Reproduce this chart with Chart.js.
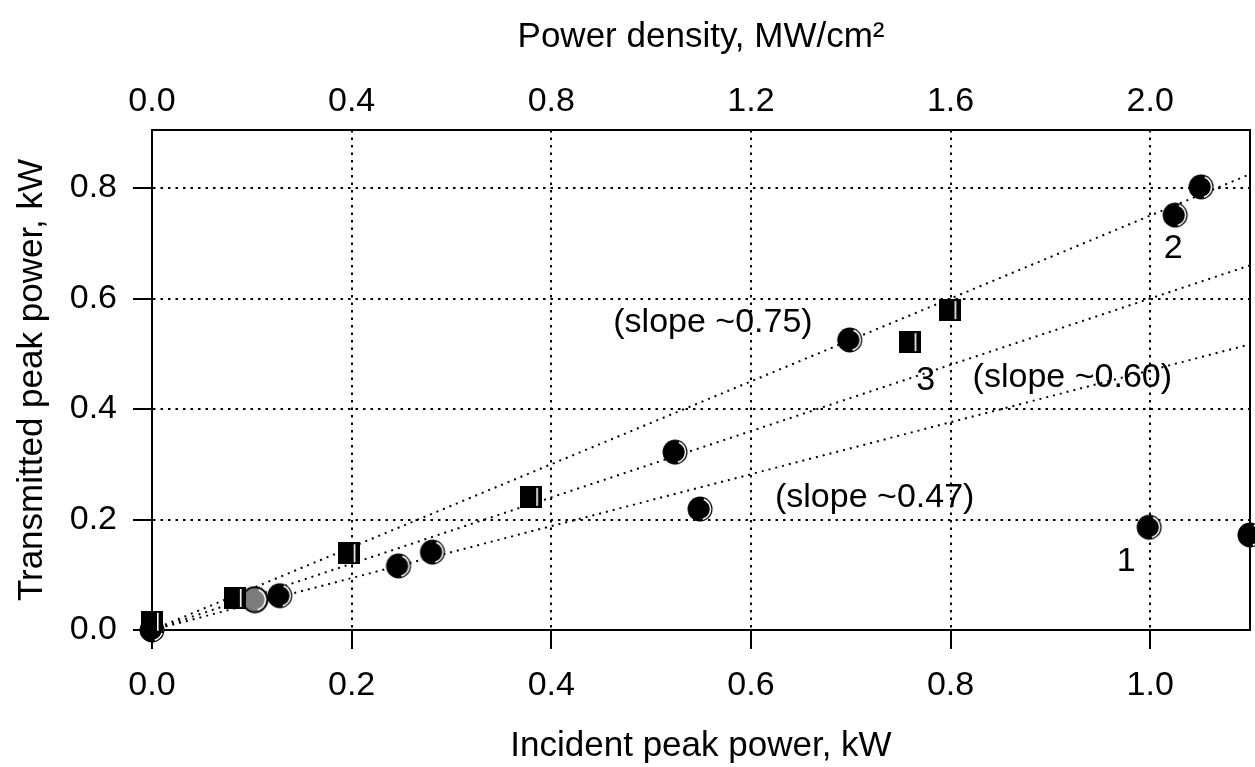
<!DOCTYPE html>
<html>
<head>
<meta charset="utf-8">
<script src="https://cdn.jsdelivr.net/npm/chart.js@4/dist/chart.umd.min.js"></script>
<style>
  html, body { margin: 0; padding: 0; background: #fff; }
  #wrap { width: 1255px; height: 767px; }
</style>
</head>
<body>
<div id="wrap"><canvas id="chart" width="1255" height="767"></canvas></div>
<script>
// Transmitted vs incident peak power; top axis shows the matching power density.

// filled circles (runs 1 and 2)
const circleX = [0.0, 0.128, 0.247, 0.281, 0.524, 0.549, 0.699, 0.999, 1.100, 1.025, 1.051];
const circleY = [0.0, 0.062, 0.116, 0.141, 0.322, 0.219, 0.525, 0.186, 0.172, 0.751, 0.802];

// the one grey circle
const greyX = [0.103];
const greyY = [0.055];

// squares (run 3)
const squareX = [0.0, 0.083, 0.197, 0.380, 0.759, 0.799];
const squareY = [0.015, 0.058, 0.139, 0.241, 0.521, 0.579];

// dotted guide lines through the origin
const fitSlopes = [0.75, 0.60, 0.47];
const fitEndX = 1.1;

// text notes inside the plot
const noteText = ["(slope ~0.75)", "(slope ~0.60)", "(slope ~0.47)", "1", "2", "3"];
const noteX = [0.562, 0.922, 0.724, 0.976, 1.023, 0.775];
const noteY = [0.557, 0.456, 0.239, 0.123, 0.691, 0.452];

const FONT = '"Liberation Sans", Arial, sans-serif';
Chart.defaults.font.family = FONT;
Chart.defaults.color = "#000";

function circleMarker(fill) {
  const c = document.createElement("canvas");
  c.width = 28; c.height = 28;
  const g = c.getContext("2d");
  g.fillStyle = fill;
  g.beginPath(); g.arc(14, 14, 12.5, 0, Math.PI * 2); g.fill();
  if (fill !== "#000") {
    g.strokeStyle = "#000"; g.lineWidth = 2; g.stroke();
  }
  g.strokeStyle = "#fff"; g.lineWidth = 1.6;
  g.beginPath(); g.arc(14, 14, 10.5, -1.2, 1.3); g.stroke();
  return c;
}

function squareMarker() {
  const c = document.createElement("canvas");
  c.width = 22; c.height = 22;
  const g = c.getContext("2d");
  g.fillStyle = "#000";
  g.fillRect(0, 0, 22, 22);
  g.fillStyle = "#fff";
  g.fillRect(16, 2, 1.6, 18);
  return c;
}

function pts(xs, ys) {
  return xs.map(function (x, i) { return { x: x, y: ys[i] }; });
}

const lineSets = fitSlopes.map(function (k) {
  return {
    data: [{ x: 0, y: 0 }, { x: fitEndX, y: k * fitEndX }],
    showLine: true,
    borderColor: "#000",
    borderWidth: 2,
    borderDash: [2, 5],
    pointRadius: 0,
    order: 3
  };
});

const notesPlugin = {
  id: "notes",
  afterDatasetsDraw(chart) {
    const ctx = chart.ctx;
    const xs = chart.scales.x, ys = chart.scales.y;
    ctx.save();
    ctx.font = "34px " + FONT;
    ctx.fillStyle = "#000";
    ctx.textAlign = "center";
    ctx.textBaseline = "middle";
    noteText.forEach(function (t, i) {
      ctx.fillText(t, xs.getPixelForValue(noteX[i]), ys.getPixelForValue(noteY[i]));
    });
    ctx.restore();
  }
};

const tickFont = { size: 34 };
const titleFont = { size: 35 };
const fmt = function (v) { return Number(v).toFixed(1); };

new Chart(document.getElementById("chart"), {
  type: "scatter",
  data: {
    datasets: lineSets.concat([
      { data: pts(circleX, circleY), pointStyle: circleMarker("#000"), clip: false, order: 2 },
      { data: pts(greyX, greyY), pointStyle: circleMarker("#7c7c7c"), clip: false, order: 1 },
      { data: pts(squareX, squareY), pointStyle: squareMarker(), clip: false, order: 0 }
    ])
  },
  options: {
    responsive: false,
    animation: false,
    devicePixelRatio: 1,
    layout: { padding: 0 },
    plugins: { legend: { display: false }, tooltip: { enabled: false } },
    scales: {
      x: {
        type: "linear", position: "bottom", min: 0, max: 1.1,
        ticks: { stepSize: 0.2, includeBounds: false, callback: fmt, font: tickFont, color: "#000", padding: 16, maxRotation: 0 },
        grid: { color: "#000", lineWidth: 2, tickLength: 19, tickWidth: 2, tickColor: "#000", tickBorderDash: [] },
        border: { display: true, color: "#000", width: 2, dash: [2.5, 5] },
        title: { display: true, text: "Incident peak power, kW", font: titleFont, color: "#000", padding: { top: 0, bottom: 0 } },
        afterFit: function (s) { s.height = 137; }
      },
      x2: {
        type: "linear", position: "top", min: 0, max: 2.2,
        ticks: { stepSize: 0.4, includeBounds: false, callback: fmt, font: tickFont, color: "#000", padding: 8, maxRotation: 0 },
        grid: { drawOnChartArea: false, drawTicks: false },
        border: { display: true, color: "#000", width: 2 },
        title: { display: true, text: "Power density, MW/cm²", font: titleFont, color: "#000", padding: { top: 16, bottom: 0 } },
        afterFit: function (s) { s.height = 130; }
      },
      y: {
        type: "linear", position: "left", min: 0, max: 0.905,
        ticks: { stepSize: 0.2, includeBounds: false, callback: fmt, font: tickFont, color: "#000", padding: 16 },
        grid: { color: "#000", lineWidth: 2, tickLength: 19, tickWidth: 2, tickColor: "#000", tickBorderDash: [] },
        border: { display: true, color: "#000", width: 2, dash: [2.5, 5] },
        title: { display: true, text: "Transmitted peak power, kW", font: titleFont, color: "#000", padding: { top: 11, bottom: 0 } },
        afterFit: function (s) { s.width = 152; }
      },
      y2: {
        type: "linear", position: "right", min: 0, max: 0.905,
        ticks: { display: false },
        grid: { display: false },
        border: { display: true, color: "#000", width: 2 },
        afterFit: function (s) { s.width = 1; }
      }
    }
  },
  plugins: [notesPlugin]
});
</script>
</body>
</html>
